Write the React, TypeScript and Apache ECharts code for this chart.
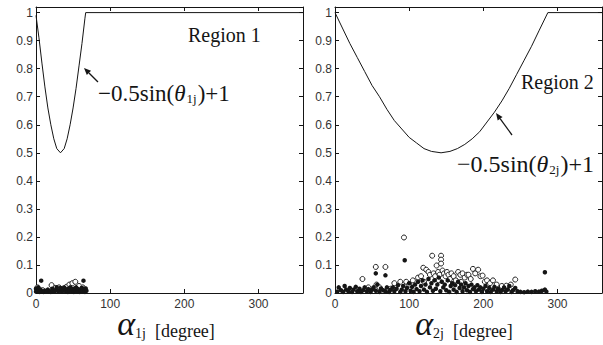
import React, { useEffect, useRef } from 'react';
import * as echarts from 'echarts';

// ---- data ----
const xTickValues = [0, 100, 200, 300];
const yTickLabels = ['0', '0.1', '0.2', '0.3', '0.4', '0.5', '0.6', '0.7', '0.8', '0.9', '1'];

// Region 1 weight curve  (alpha_1j [deg], value)
const curve1: [number, number][] = [
  [0, 0.99], [4, 0.91], [8, 0.82], [12, 0.735], [16, 0.66], [20, 0.6], [24, 0.55],
  [28, 0.515], [33, 0.5], [38, 0.515], [42, 0.55], [46, 0.6], [50, 0.66], [54, 0.73],
  [58, 0.81], [62, 0.89], [66, 0.98], [67, 1.0], [360, 1.0],
];

// Region 2 weight curve  (alpha_2j [deg], value)
const curve2: [number, number][] = [
  [0, 1.0], [10, 0.945], [20, 0.89], [30, 0.84], [40, 0.79], [50, 0.74], [60, 0.7],
  [70, 0.655], [80, 0.615], [90, 0.585], [100, 0.555], [110, 0.535], [120, 0.515],
  [130, 0.505], [143, 0.5], [155, 0.505], [165, 0.515], [175, 0.53], [185, 0.55],
  [195, 0.575], [205, 0.61], [215, 0.645], [225, 0.685], [235, 0.73], [245, 0.78],
  [255, 0.83], [265, 0.88], [275, 0.935], [287, 1.0], [360, 1.0],
];

// Region 1 samples
const filled1: [number, number][] = [
  [0, 0.005], [0, 0.015], [1, 0.01], [2, 0.005], [3, 0.02], [4, 0.008], [5, 0.004],
  [6, 0.012], [7, 0.044], [8, 0.006], [10, 0.004], [12, 0.008], [14, 0.005], [16, 0.012],
  [18, 0.006], [20, 0.004], [22, 0.015], [23, 0.008], [25, 0.005], [27, 0.012], [28, 0.02],
  [30, 0.006], [32, 0.01], [33, 0.018], [35, 0.005], [37, 0.012], [38, 0.02], [40, 0.006],
  [42, 0.014], [43, 0.004], [45, 0.01], [46, 0.02], [48, 0.006], [50, 0.015], [51, 0.004],
  [53, 0.01], [54, 0.02], [56, 0.006], [57, 0.014], [59, 0.004], [60, 0.01], [62, 0.018],
  [63, 0.006], [64, 0.044], [65, 0.012], [66, 0.004], [67, 0.016], [68, 0.008],
];
const open1: [number, number][] = [
  [2, 0.02], [9, 0.01], [21, 0.028], [26, 0.018], [31, 0.02], [36, 0.015], [41, 0.022],
  [45, 0.03], [49, 0.035], [53, 0.04], [58, 0.025], [63, 0.02],
];

// Region 2 samples
const filled2: [number, number][] = [
  [3, 0.005], [5, 0.02], [8, 0.01], [11, 0.004], [13, 0.025], [15, 0.012], [18, 0.006],
  [20, 0.018], [23, 0.004], [25, 0.012], [28, 0.022], [30, 0.006], [33, 0.015], [35, 0.004],
  [38, 0.01], [40, 0.02], [43, 0.006], [45, 0.014], [48, 0.004], [50, 0.012], [52, 0.02],
  [55, 0.07], [55, 0.008], [57, 0.03], [60, 0.004], [62, 0.016], [65, 0.01], [68, 0.063],
  [68, 0.006], [70, 0.02], [73, 0.004], [75, 0.012], [78, 0.02], [80, 0.006], [83, 0.015],
  [85, 0.028], [88, 0.004], [90, 0.012], [92, 0.025], [94, 0.117], [95, 0.006], [97, 0.018],
  [100, 0.035], [102, 0.008], [104, 0.022], [106, 0.004], [108, 0.03], [110, 0.014],
  [112, 0.04], [114, 0.006], [116, 0.025], [118, 0.045], [120, 0.012], [122, 0.03],
  [124, 0.004], [126, 0.05], [128, 0.02], [130, 0.035], [132, 0.008], [134, 0.045],
  [136, 0.015], [138, 0.03], [140, 0.055], [142, 0.006], [144, 0.04], [146, 0.02],
  [148, 0.03], [150, 0.01], [152, 0.045], [154, 0.004], [156, 0.025], [158, 0.035],
  [160, 0.012], [162, 0.028], [164, 0.004], [166, 0.04], [168, 0.018], [170, 0.03],
  [172, 0.006], [174, 0.02], [176, 0.035], [178, 0.01], [180, 0.025], [182, 0.004],
  [184, 0.03], [186, 0.014], [188, 0.02], [190, 0.006], [192, 0.028], [194, 0.012],
  [196, 0.02], [198, 0.004], [200, 0.015], [203, 0.025], [205, 0.006], [208, 0.018],
  [210, 0.004], [213, 0.012], [215, 0.022], [218, 0.006], [220, 0.015], [223, 0.004],
  [225, 0.01], [228, 0.02], [230, 0.006], [233, 0.012], [235, 0.025], [238, 0.004],
  [240, 0.01], [243, 0.018], [246, 0.006], [250, 0.004], [255, 0.003], [260, 0.005],
  [265, 0.004], [270, 0.006], [275, 0.005], [279, 0.008], [283, 0.074], [283, 0.012],
  [285, 0.005],
];
const open2: [number, number][] = [
  [37, 0.05], [55, 0.093], [68, 0.093], [56, 0.03], [93, 0.198], [80, 0.035], [88, 0.04],
  [96, 0.04], [105, 0.045], [112, 0.055], [116, 0.06], [119, 0.09], [123, 0.083],
  [126, 0.075], [128, 0.065], [131, 0.133], [133, 0.07], [135, 0.06], [137, 0.098],
  [139, 0.075], [141, 0.065], [143, 0.133], [143, 0.119], [143, 0.105], [145, 0.08],
  [147, 0.07], [149, 0.06], [151, 0.075], [153, 0.065], [155, 0.05], [157, 0.07],
  [160, 0.06], [163, 0.045], [166, 0.075], [169, 0.065], [172, 0.07], [175, 0.055],
  [178, 0.065], [180, 0.065], [183, 0.05], [186, 0.086], [189, 0.07], [193, 0.083],
  [196, 0.06], [199, 0.062], [202, 0.04], [205, 0.045], [209, 0.035], [213, 0.045],
  [218, 0.03], [225, 0.025], [231, 0.026], [237, 0.03], [243, 0.048], [120, 0.04],
  [140, 0.045], [170, 0.04], [100, 0.03], [60, 0.02], [75, 0.015], [45, 0.02],
];

const X_MAX = 360;
const Y_MAX = 1.02;
const INK = '#151515';
const SERIF = "'Liberation Serif', 'Times New Roman', serif";

function arrow(tail: [number, number], head: [number, number]) {
  const dx = head[0] - tail[0];
  const dy = head[1] - tail[1];
  const len = Math.hypot(dx, dy);
  const ux = dx / len, uy = dy / len;
  const L = 7, W = 3;
  const bx = head[0] - ux * L, by = head[1] - uy * L;
  return [
    { type: 'line', shape: { x1: tail[0], y1: tail[1], x2: bx, y2: by }, style: { stroke: INK, lineWidth: 1.3 } },
    {
      type: 'polygon',
      shape: { points: [head, [bx - uy * W, by + ux * W], [bx + uy * W, by - ux * W]] },
      style: { fill: INK },
    },
  ];
}

function tok(size: number, lineHeight: number, italic = false) {
  return {
    font: `${italic ? 'italic ' : ''}${size}px ${SERIF}`,
    fontFamily: SERIF,
    fontSize: size,
    fontStyle: italic ? 'italic' : 'normal',
    lineHeight,
    fill: INK,
    verticalAlign: 'bottom',
  };
}

export default function App() {
  const ref = useRef<HTMLDivElement>(null);
  useEffect(() => {
    document.body.style.margin = '0';
    const chart = echarts.init(ref.current!, undefined, { renderer: 'svg' });
    const grids = [
      { left: 36, top: 7, width: 267, height: 286, outerBoundsMode: 'none' },
      { left: 335, top: 7, width: 267, height: 286, outerBoundsMode: 'none' },
    ];
    const axisLabelFont = { fontFamily: 'Liberation Sans', fontSize: 12, color: '#333' };
    const mainX = (g: number) => ({
      type: 'value', gridIndex: g, min: 0, max: X_MAX, interval: 100, position: 'bottom',
      axisLine: { onZero: false, lineStyle: { color: INK, width: 1 } },
      axisTick: { inside: true, length: 4, lineStyle: { color: INK } },
      axisLabel: {
        ...axisLabelFont, margin: 5,
        formatter: (v: number) => (xTickValues.includes(v) ? String(v) : ''),
      },
      splitLine: { show: false },
    });
    const topX = (g: number) => ({
      type: 'value', gridIndex: g, min: 0, max: X_MAX, interval: 100, position: 'top',
      axisLine: { onZero: false, lineStyle: { color: INK, width: 1 } },
      axisTick: { inside: true, length: 4, lineStyle: { color: INK } },
      axisLabel: { show: false }, splitLine: { show: false },
    });
    const mainY = (g: number) => ({
      type: 'value', gridIndex: g, min: 0, max: Y_MAX, interval: 0.1, position: 'left',
      axisLine: { show: true, onZero: false, lineStyle: { color: INK, width: 1 } },
      axisTick: { show: true, inside: true, length: 4, lineStyle: { color: INK } },
      axisLabel: {
        ...axisLabelFont, margin: 3,
        formatter: (v: number) => {
          const i = Math.round(v * 10);
          return Math.abs(v * 10 - i) < 1e-6 && i <= 10 ? yTickLabels[i] : '';
        },
      },
      splitLine: { show: false },
    });
    const rightY = (g: number) => ({
      type: 'value', gridIndex: g, min: 0, max: Y_MAX, interval: 0.1, position: 'right',
      axisLine: { show: true, onZero: false, lineStyle: { color: INK, width: 1 } },
      axisTick: { show: true, inside: true, length: 4, lineStyle: { color: INK } },
      axisLabel: { show: false }, splitLine: { show: false },
    });

    const lineSeries = (data: [number, number][], g: number) => ({
      type: 'line', xAxisIndex: g, yAxisIndex: g, data, showSymbol: false, symbol: 'none',
      lineStyle: { color: INK, width: 1 }, silent: true, z: 3,
    });
    const dotSeries = (data: [number, number][], g: number) => ({
      type: 'scatter', xAxisIndex: g, yAxisIndex: g, data, symbol: 'circle', symbolSize: 4.5,
      itemStyle: { color: INK, opacity: 1 }, silent: true, z: 5,
    });
    const ringSeries = (data: [number, number][], g: number) => ({
      type: 'scatter', xAxisIndex: g, yAxisIndex: g, data, symbol: 'circle', symbolSize: 5,
      itemStyle: { color: '#ffffff', borderColor: '#222222', borderWidth: 1, opacity: 1 }, silent: true, z: 4,
    });

    const formulaRich = (sub: string, size: number) => ({
      text: `{t|\u22120.5sin(}{th|θ}{s|${sub}}{t|)+1}`,
      rich: {
        t: tok(size, 26),
        th: tok(size, 26, true),
        s: { ...tok(13, 12), padding: [0, 1, 0, 1] },
      },
    });
    const titleRich = (sub: string) => ({
      text: `{a|α}{s|${sub}}{d|  [degree]}`,
      rich: {
        a: tok(34, 30, true),
        s: tok(14, 12),
        d: tok(18, 22),
      },
    });

    chart.setOption({
      animation: false,
      backgroundColor: '#fff',
      grid: grids,
      xAxis: [mainX(0), mainX(1), topX(0), topX(1)],
      yAxis: [mainY(0), mainY(1), rightY(0), rightY(1)],
      series: [
        lineSeries(curve1, 0), lineSeries(curve2, 1),
        ringSeries(open1, 0), dotSeries(filled1, 0),
        ringSeries(open2, 1), dotSeries(filled2, 1),
      ],
      graphic: [
        { type: 'text', x: 188, y: 35, style: { text: 'Region 1', font: `20px ${SERIF}`, fill: INK, verticalAlign: 'middle' } },
        { type: 'text', x: 521, y: 82, style: { text: 'Region 2', font: `20px ${SERIF}`, fill: INK, verticalAlign: 'middle' } },
        { type: 'text', x: 98, y: 92, style: { ...formulaRich('1j', 23), verticalAlign: 'middle' } },
        { type: 'text', x: 457, y: 163, style: { ...formulaRich('2j', 24), verticalAlign: 'middle' } },
        { type: 'text', x: 166, y: 325, style: { ...titleRich('1j'), align: 'center', verticalAlign: 'middle' } },
        { type: 'text', x: 464, y: 325, style: { ...titleRich('2j'), align: 'center', verticalAlign: 'middle' } },
        ...arrow([98, 82], [84, 68]),
        ...arrow([512, 135], [496, 113]),
      ],
    });
    return () => chart.dispose();
  }, []);
  return <div ref={ref} style={{ position: 'absolute', left: 0, top: 0, width: 603, height: 345 }} />;
}
